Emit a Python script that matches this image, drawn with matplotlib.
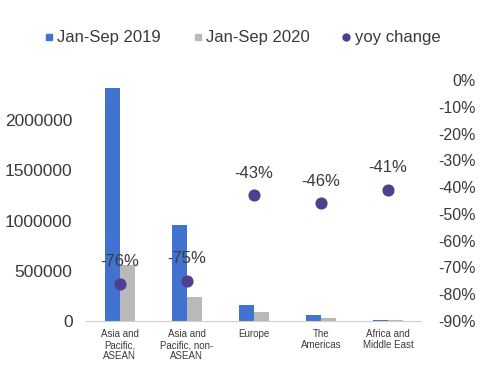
import matplotlib
matplotlib.use("Agg")
import matplotlib.pyplot as plt
from matplotlib.lines import Line2D
import numpy as np

plt.rcParams['font.family'] = ['Liberation Sans', 'DejaVu Sans']

categories = ["Asia and\nPacific,\nASEAN", "Asia and\nPacific, non-\nASEAN", "Europe",
              "The\nAmericas", "Africa and\nMiddle East"]
arrivals_2019 = [2320000, 960000, 155000, 60000, 12000]
arrivals_2020 = [557000, 240000, 88000, 32000, 7000]
yoy_change = [-0.76, -0.75, -0.43, -0.46, -0.41]
yoy_labels = ["-76%", "-75%", "-43%", "-46%", "-41%"]
left_ticks = [0, 500000, 1000000, 1500000, 2000000]
right_ticks = [0, -0.1, -0.2, -0.3, -0.4, -0.5, -0.6, -0.7, -0.8, -0.9]

blue = '#4272d0'
gray = '#b9b9b9'
purple = '#4f3f8f'
text_col = '#3a3a3a'

fig = plt.figure(figsize=(4.8, 3.72), dpi=100)
ax = fig.add_axes([0.180, 0.137, 0.698, 0.648])
x = np.arange(len(categories))
w = 0.224
ax.bar(x - w / 2, arrivals_2019, width=w, color=blue, zorder=2)
ax.bar(x + w / 2, arrivals_2020, width=w, color=gray, zorder=2)
ax.set_xlim(-0.5, len(categories) - 0.5)
ax.set_ylim(0, 2400000)
ax.set_yticks(left_ticks)
ax.set_yticklabels([str(t) for t in left_ticks])
ax.set_xticks(x)
ax.set_xticklabels(categories, fontsize=7, color=text_col, linespacing=1.1)
ax.tick_params(axis='y', length=0, pad=10, labelsize=12.5, labelcolor=text_col)
ax.tick_params(axis='x', length=0, pad=6)
for s in ['top', 'right', 'left']:
    ax.spines[s].set_visible(False)
ax.spines['bottom'].set_color('#d0d0d0')
ax.spines['bottom'].set_linewidth(0.8)

ax2 = ax.twinx()
ax2.scatter(x, yoy_change, s=60, color=purple, zorder=3)
ax2.set_ylim(-0.9, 0)
ax2.set_yticks(right_ticks)
ax2.set_yticklabels([f"{int(round(t * 100))}%" for t in right_ticks], ha='right')
ax2.tick_params(axis='y', length=0, pad=39, labelsize=11.5, labelcolor=text_col)
for s in ax2.spines.values():
    s.set_visible(False)
for xi, v, lab in zip(x, yoy_change, yoy_labels):
    ax2.annotate(lab, (xi, v), xytext=(0, 10.5), textcoords='offset points',
                 ha='center', va='bottom', fontsize=12, color=text_col, zorder=4)

handles = [
    Line2D([], [], marker='s', ls='none', color=blue, markersize=4.5),
    Line2D([], [], marker='s', ls='none', color=gray, markersize=4.5),
    Line2D([], [], marker='o', ls='none', color=purple, markersize=5),
]
fig.legend(handles, ["Jan-Sep 2019", "Jan-Sep 2020", "yoy change"], loc='center',
           bbox_to_anchor=(0.506, 0.898), ncol=3, frameon=False, fontsize=12,
           handlelength=0.4, handletextpad=0.3, columnspacing=2.0,
           labelcolor=text_col)

fig.savefig("out.png", dpi=100)
